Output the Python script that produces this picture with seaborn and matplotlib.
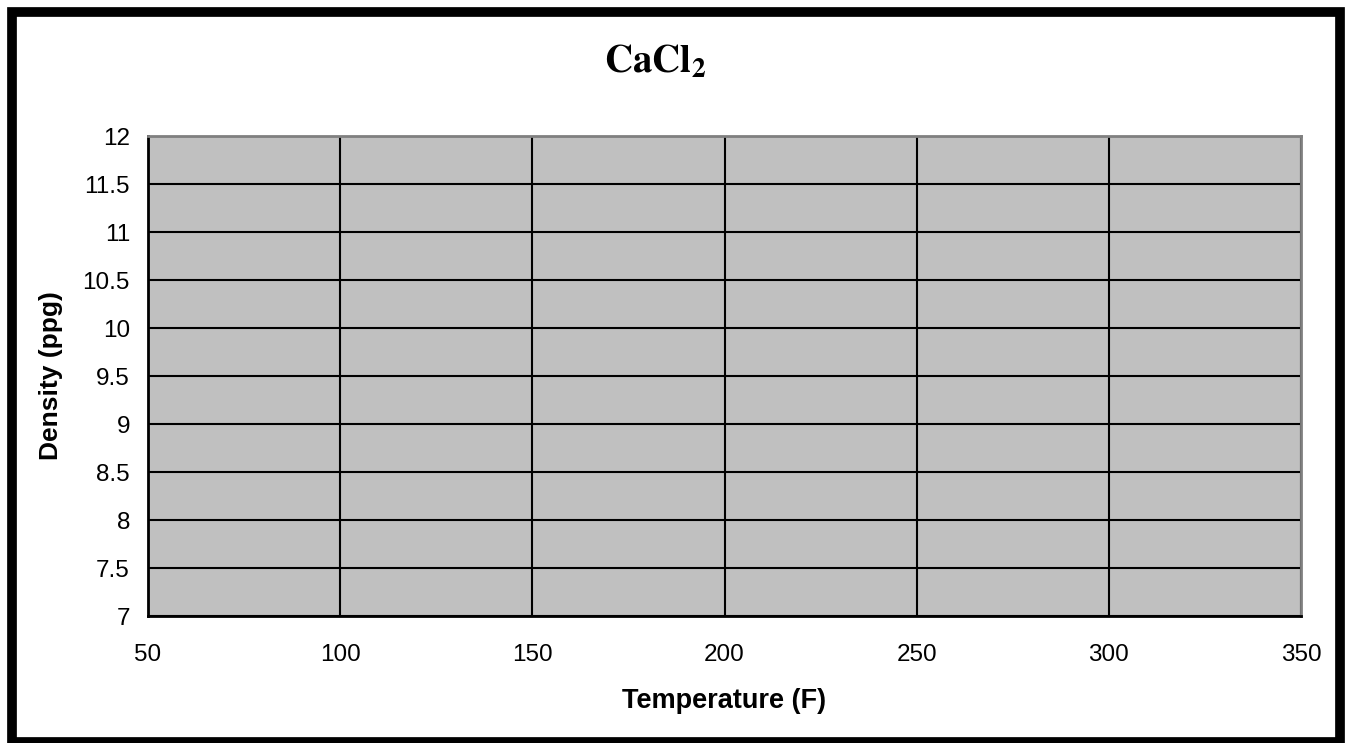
import matplotlib
matplotlib.use('Agg')
import matplotlib.pyplot as plt
import seaborn as sns
from matplotlib.patches import Rectangle

# 图表数据（空白模板，无数据点）
temperature = []
density = []
x_ticks = [50, 100, 150, 200, 250, 300, 350]
y_ticks = [7, 7.5, 8, 8.5, 9, 9.5, 10, 10.5, 11, 11.5, 12]
y_tick_labels = ['7', '7.5', '8', '8.5', '9', '9.5', '10', '10.5', '11', '11.5', '12']

sns.set_style('white')
plt.rcParams['font.family'] = ['Liberation Sans', 'DejaVu Sans']
plt.rcParams['mathtext.fontset'] = 'stix'
plt.rcParams['text.color'] = 'black'
plt.rcParams['axes.labelcolor'] = 'black'

W, H = 1345, 743
fig = plt.figure(figsize=(W / 100, H / 100), dpi=100)
ax = fig.add_axes([148 / W, 1 - 616 / H, (1301 - 148) / W, (616 - 136) / H])

sns.lineplot(x=temperature, y=density, ax=ax, color='black')

ax.set_facecolor('#C0C0C0')
ax.set_xlim(x_ticks[0], x_ticks[-1])
ax.set_ylim(y_ticks[0], y_ticks[-1])
ax.set_xticks(x_ticks)
ax.set_yticks(y_ticks)
ax.set_yticklabels(y_tick_labels)
ax.grid(True, color='black', linewidth=1.5)
ax.tick_params(axis='both', length=0, labelsize=17.5, colors='black')
ax.tick_params(axis='x', pad=20)
ax.tick_params(axis='y', pad=13)

for side in ['left', 'bottom']:
    ax.spines[side].set_color('black')
    ax.spines[side].set_linewidth(2)
for side in ['top', 'right']:
    ax.spines[side].set_color('#808080')
    ax.spines[side].set_linewidth(2)

ax.set_xlabel('Temperature (F)', fontsize=19.5, fontweight='bold', labelpad=16)
ax.set_ylabel('Density (ppg)', fontsize=19, fontweight='bold', labelpad=14)

fig.text(0.5 - 17 / W, 1 - 72 / H, r'$\mathbf{CaCl_2}$', fontsize=28,
         ha='center', va='baseline', color='black')

# 外框
fig.patches.append(Rectangle((11.5 / W, 1 - 742 / H), (1339.5 - 11.5) / W, (742 - 12) / H,
                             transform=fig.transFigure, fill=False,
                             edgecolor='black', linewidth=7))

fig.savefig('out.png', dpi=100)
